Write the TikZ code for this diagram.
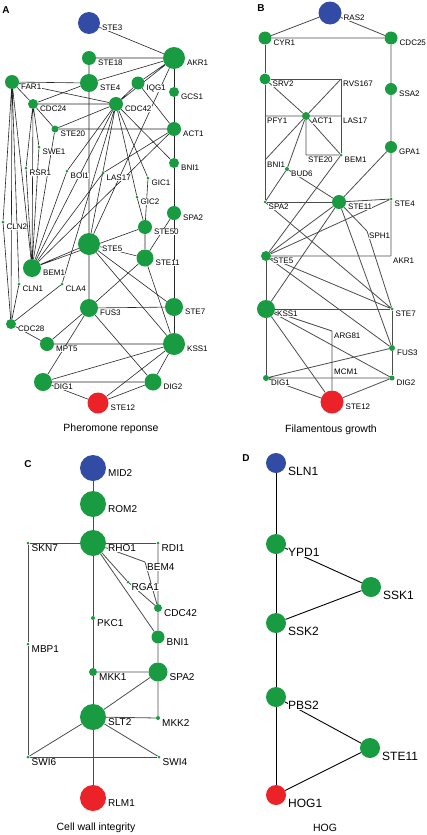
\documentclass[tikz,border=0pt]{standalone}
\usepackage{fontspec}
\setmainfont{Liberation Sans}
\usetikzlibrary{backgrounds}
\definecolor{gngreen}{RGB}{25,155,65}
\definecolor{gnblue}{RGB}{50,75,165}
\definecolor{gnred}{RGB}{235,35,40}

\begin{document}
\begin{tikzpicture}[x=1pt,y=-1pt,
    gn/.style={circle,fill=gngreen,inner sep=0pt,minimum size=#1},
    bn/.style={circle,fill=gnblue,inner sep=0pt,minimum size=#1},
    rn/.style={circle,fill=gnred,inner sep=0pt,minimum size=#1},
    cn/.style={inner sep=0pt,minimum size=0pt},
    lbl/.style={anchor=north west,fill=white,inner sep=0.3pt,xshift=1.5pt,yshift=-1.5pt,font=\fontsize{8}{9}\selectfont},
    pl/.style={label={[lbl]0:#1}},
    plc/.style={label={[lbl,font=\fontsize{10}{11}\selectfont]0:#1}},
    pld/.style={label={[lbl,yshift=-2pt,font=\fontsize{12}{13}\selectfont]0:#1}},
    link/.style={draw=black!85,line width=0.6pt},
    linkg/.style={draw=black!70,line width=0.8pt},
    linkd/.style={draw=black,line width=0.9pt},
    panel/.style={font=\bfseries\fontsize{10}{12}\selectfont},
    caption/.style={font=\fontsize{10.5}{12}\selectfont}]

  \useasboundingbox (0,0) rectangle (426,835);

  % --------------------------------------------------------- %
  % ------------- A : pheromone response
  % --------------------------------------------------------- %
  \node[panel] (pa) at (6,10) {A};
  \node[bn=22pt,pl=STE3] (ste3) at (89,23) {};
  \node[gn=22pt,pl=AKR1] (akr1) at (174,58) {};
  \node[gn=14pt,pl=STE18] (ste18) at (89,58) {};
  \node[gn=18pt,pl=STE4] (ste4) at (89,83) {};
  \node[gn=14pt,pl=FAR1] (far1) at (12,82) {};
  \node[gn=13pt,pl=IQG1] (iqg1) at (138,83) {};
  \node[gn=10pt,pl=GCS1] (gcs1) at (174,92) {};
  \node[gn=10pt,pl=CDC24] (cdc24) at (33,104) {};
  \node[gn=14pt,pl=CDC42] (cdc42) at (116,104) {};
  \node[gn=7pt,pl=STE20] (ste20) at (55,129) {};
  \node[gn=14pt,pl=ACT1] (act1) at (174,129) {};
  \node[gn=3pt,pl=SWE1] (swe1) at (39,147) {};
  \node[gn=10pt,pl=BNI1] (bni1) at (174,163) {};
  \node[gn=3pt,pl=RSR1] (rsr1) at (26,168) {};
  \node[gn=3pt,pl=BOI1] (boi1) at (67,171) {};
  \node[gn=3pt,pl=LAS17] (las17) at (103,173) {};
  \node[gn=3pt,pl=GIC1] (gic1) at (148,178) {};
  \node[gn=3pt,pl=GIC2] (gic2) at (137,197) {};
  \node[gn=14pt,pl=SPA2] (spa2) at (174,213) {};
  \node[gn=14pt,pl=STE50] (ste50) at (145,227) {};
  \node[gn=22pt,pl=STE5] (ste5) at (89,244) {};
  \node[gn=17pt,pl=STE11] (ste11) at (145,258) {};
  \node[gn=3pt,pl=CLN2] (cln2) at (3,222) {};
  \node[gn=18pt,pl=BEM1] (bem1) at (32,268) {};
  \node[gn=3pt,pl=CLN1] (cln1) at (19,284) {};
  \node[gn=3pt,pl=CLA4] (cla4) at (62,284) {};
  \node[gn=18pt,pl=FUS3] (fus3) at (89,308) {};
  \node[gn=18pt,pl=STE7] (ste7) at (174,307) {};
  \node[gn=10pt,pl=CDC28] (cdc28) at (11,324) {};
  \node[gn=14pt,pl=MPT5] (mpt5) at (47,344) {};
  \node[gn=22pt,pl=KSS1] (kss1) at (174,344) {};
  \node[gn=18pt,pl=DIG1] (dig1) at (43,382) {};
  \node[gn=17pt,pl=DIG2] (dig2) at (153,382) {};
  \node[rn=21pt,pl=STE12] (ste12) at (98,403) {};
  \node[caption] (capa) at (111,429) {Pheromone reponse};

  \begin{pgfonlayer}{background}
    \draw[link] (ste3) -- (akr1) (ste18) -- (akr1) (ste18) -- (ste4) (ste4) -- (akr1);
    \draw[link] (far1) -- (ste4) (far1) -- (cdc42) (far1) -- (cdc24);
    \draw[link] (cdc24) -- (ste4) (cdc24) -- (cdc42) (cdc24) -- (ste20);
    \draw[link] (ste20) -- (cdc42) (ste20) -- (act1);
    \draw[link] (iqg1) -- (akr1) (iqg1) -- (cdc42) (iqg1) -- (act1) (cdc42) -- (akr1);
    \draw[link] (akr1) -- (gcs1) -- (act1) -- (bni1) -- (spa2) -- (ste7) -- (kss1);
    \draw[link] (cdc42) -- (bni1) (cdc42) -- (gic1) (cdc42) -- (gic2) (cdc42) -- (boi1);
    \draw[link] (cdc42) -- (bem1) (cdc42) -- (ste5) (cdc42) -- (cla4);
    \draw[link] (act1) -- (las17) (act1) -- (bem1) (akr1) -- (ste5) (las17) -- (bem1);
    \draw[link] (boi1) -- (bem1) (ste20) -- (bem1);
    \draw[link] (cdc24) -- (rsr1) (rsr1) -- (bem1) (cdc24) -- (swe1) (swe1) -- (bem1) (cdc24) -- (bem1);
    \draw[link] (far1) -- (bem1) (far1) -- (cln2) (far1) -- (cln1) (far1) -- (cdc28);
    \draw[link] (cln2) -- (cdc28) (cln1) -- (cdc28) (cla4) -- (cdc28);
    \draw[link] (gic1) -- (ste50) (gic2) -- (ste50) (spa2) -- (ste11);
    \draw[link] (ste50) -- (ste11) (ste50) -- (bem1) (bem1) -- (ste5);
    \draw[link] (ste4) -- (ste5) (ste5) -- (ste11) (ste5) -- (ste7) (ste5) -- (kss1) (ste5) -- (fus3);
    \draw[link] (ste11) -- (fus3) (ste11) -- (kss1);
    \draw[link] (fus3) -- (ste7) (fus3) -- (mpt5) (fus3) -- (dig1) (fus3) -- (dig2);
    \draw[link] (cdc28) -- (mpt5) (mpt5) -- (kss1);
    \draw[link] (kss1) -- (dig1) (kss1) -- (dig2) (kss1) -- (ste12);
    \draw[link] (dig1) -- (dig2) (dig1) -- (ste12) (dig2) -- (ste12);
  \end{pgfonlayer}

  % --------------------------------------------------------- %
  % ------------- B : filamentous growth
  % --------------------------------------------------------- %
  \node[panel] (pb) at (261,8) {B};
  \node[bn=23pt,pl=RAS2] (ras2) at (330,13) {};
  \node[gn=13pt,pl=CYR1] (cyr1) at (265,38) {};
  \node[gn=13pt,pl=CDC25] (cdc25) at (391,38) {};
  \node[gn=11pt,pl=SRV2] (srv2) at (265,79) {};
  \node[cn,pl=RVS167] (rvs167) at (341,79) {};
  \node[gn=12pt,pl=SSA2] (ssa2) at (391,89) {};
  \node[cn,pl=PFY1] (pfy1) at (265,116) {};
  \node[gn=8pt,pl=ACT1] (act1b) at (306,116) {};
  \node[cn,pl=LAS17] (las17b) at (341,116) {};
  \node[gn=12pt,pl=GPA1] (gpa1) at (391,147) {};
  \node[cn,pl=STE20] (ste20b) at (306,155) {};
  \node[gn=3pt,pl=BEM1] (bem1b) at (341,155) {};
  \node[cn,pl=BNI1] (bni1b) at (265,160) {};
  \node[gn=4pt,pl=BUD6] (bud6) at (287,169) {};
  \node[gn=3pt,pl=SPA2] (spa2b) at (265,202) {};
  \node[gn=14pt,pl=STE11] (ste11b) at (339,202) {};
  \node[gn=3pt,pl=STE4] (ste4b) at (391,199) {};
  \node[cn,pl=SPH1] (sph1) at (367,231) {};
  \node[gn=10pt,pl=STE5] (ste5b) at (266,256) {};
  \node[cn,pl=AKR1] (akr1b) at (391,256) {};
  \node[gn=18pt,pl=KSS1] (kss1b) at (266,309) {};
  \node[gn=3pt,pl=STE7] (ste7b) at (392,309) {};
  \node[cn,pl=ARG81] (arg81) at (332,331) {};
  \node[gn=6pt,pl=FUS3] (fus3b) at (392,348) {};
  \node[cn,pl=MCM1] (mcm1) at (332,367) {};
  \node[gn=6pt,pl=DIG1] (dig1b) at (266,378) {};
  \node[gn=5pt,pl=DIG2] (dig2b) at (392,378) {};
  \node[rn=23pt,pl=STE12] (ste12b) at (332,402) {};
  \node[caption] (capb) at (331,430) {Filamentous growth};

  \begin{pgfonlayer}{background}
    \draw[linkg] (ras2) -- (cyr1) (ras2) -- (cdc25) (cyr1) -- (cdc25);
    \draw[linkg] (cyr1) -- (srv2) -- (pfy1) -- (bni1b) -- (spa2b) -- (ste11b);
    \draw[linkg] (srv2) -- (rvs167) -- (las17b) -- (bem1b);
    \draw[linkg] (pfy1) -- (act1b) -- (las17b) (srv2) -- (act1b) (rvs167) -- (act1b);
    \draw[linkg] (act1b) -- (ste20b) -- (bem1b) (act1b) -- (bem1b);
    \draw[linkg] (act1b) -- (bni1b) (act1b) -- (bud6) -- (spa2b) (bud6) -- (ste11b);
    \draw[linkg] (bem1b) -- (ste5b);
    \draw[linkg] (cdc25) -- (ssa2) -- (gpa1) -- (ste4b) -- (akr1b) (gpa1) -- (ste11b);
    \draw[linkg] (ste11b) -- (ste4b) (ste4b) -- (ste5b) (ste5b) -- (akr1b);
    \draw[linkg] (ste11b) -- (ste5b) (ste11b) -- (kss1b) (ste11b) -- (sph1) -- (ste7b) (ste11b) -- (fus3b);
    \draw[linkg] (spa2b) -- (ste7b) (ste5b) -- (ste7b) (ste5b) -- (fus3b);
    \draw[linkg] (ste5b) -- (kss1b) -- (dig1b) (kss1b) -- (ste7b) -- (fus3b) -- (dig2b);
    \draw[linkg] (kss1b) -- (arg81) -- (mcm1) -- (ste12b) (kss1b) -- (dig2b) (kss1b) -- (ste12b);
    \draw[linkg] (dig1b) -- (fus3b) (dig1b) -- (dig2b) (dig1b) -- (ste12b) (dig2b) -- (ste12b);
  \end{pgfonlayer}

  % --------------------------------------------------------- %
  % ------------- C : cell wall integrity
  % --------------------------------------------------------- %
  \node[panel] (pc) at (28,464) {C};
  \node[bn=26pt,plc=MID2] (mid2) at (93,468) {};
  \node[gn=26pt,plc=ROM2] (rom2) at (93,504) {};
  \node[gn=26pt,plc=RHO1] (rho1) at (93,543) {};
  \node[gn=3pt,plc=SKN7] (skn7) at (28,543) {};
  \node[gn=3pt,plc=RDI1] (rdi1) at (158,543) {};
  \node[cn,plc=BEM4] (bem4) at (145,562) {};
  \node[gn=3pt,plc=RGA1] (rga1) at (128,582) {};
  \node[gn=8pt,plc=CDC42] (cdc42c) at (158,608) {};
  \node[gn=4pt,plc=PKC1] (pkc1) at (93,618) {};
  \node[gn=13pt,plc=BNI1] (bni1c) at (158,637) {};
  \node[gn=3pt,plc=MBP1] (mbp1) at (28,644) {};
  \node[gn=8pt,plc=MKK1] (mkk1) at (93,672) {};
  \node[gn=19pt,plc=SPA2] (spa2c) at (158,672) {};
  \node[gn=26pt,plc=SLT2] (slt2) at (93,717) {};
  \node[gn=4pt,plc=MKK2] (mkk2) at (158,718) {};
  \node[gn=3pt,plc=SWI6] (swi6) at (28,757) {};
  \node[gn=3pt,plc=SWI4] (swi4) at (159,757) {};
  \node[rn=26pt,plc=RLM1] (rlm1) at (93,798) {};
  \node[caption] (capc) at (96,828) {Cell wall integrity};

  \begin{pgfonlayer}{background}
    \draw[linkg] (mid2) -- (rom2) -- (rho1) -- (pkc1) -- (mkk1) -- (slt2) -- (rlm1);
    \draw[linkg] (skn7) -- (rho1) -- (rdi1) (skn7) -- (mbp1) -- (swi6) -- (swi4);
    \draw[linkg] (rho1) -- (bem4) -- (cdc42c) (rdi1) -- (cdc42c);
    \draw[linkg] (rho1) -- (rga1) -- (cdc42c) (rho1) -- (bni1c);
    \draw[linkg] (cdc42c) -- (bni1c) -- (spa2c) -- (mkk2) -- (slt2);
    \draw[linkg] (mkk1) -- (spa2c) -- (slt2) (slt2) -- (swi6) (slt2) -- (swi4);
  \end{pgfonlayer}

  % --------------------------------------------------------- %
  % ------------- D : HOG
  % --------------------------------------------------------- %
  \node[panel] (pd) at (246,458) {D};
  \node[bn=20pt,pld=SLN1] (sln1) at (276,463) {};
  \node[gn=20pt,pld=YPD1] (ypd1) at (276,544) {};
  \node[gn=20pt,pld=SSK1] (ssk1) at (371,587) {};
  \node[gn=20pt,pld=SSK2] (ssk2) at (276,623) {};
  \node[gn=20pt,pld=PBS2] (pbs2) at (276,697) {};
  \node[gn=20pt,pld=STE11] (ste11d) at (370,748) {};
  \node[rn=20pt,pld=HOG1] (hog1) at (276,795) {};
  \node[caption] (capd) at (325,828) {HOG};

  \begin{pgfonlayer}{background}
    \draw[linkd] (sln1) -- (ypd1) -- (ssk2) -- (pbs2) -- (hog1);
    \draw[linkd] (ypd1) -- (ssk1) -- (ssk2) (pbs2) -- (ste11d) -- (hog1);
  \end{pgfonlayer}

\end{tikzpicture}
\end{document}
